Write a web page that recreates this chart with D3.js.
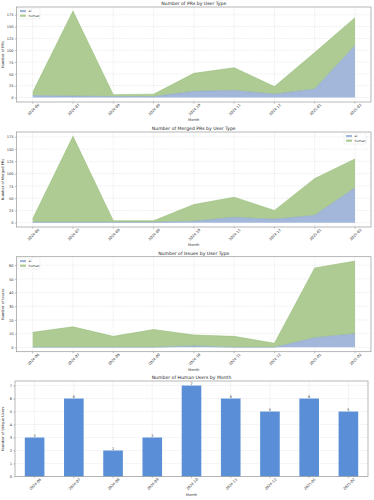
<!DOCTYPE html>
<html><head><meta charset="utf-8">
<script src="https://cdn.jsdelivr.net/npm/d3@7"></script>
<style>body{margin:0;background:#fff}svg{display:block;font-family:"DejaVu Sans",sans-serif}</style>
</head><body><svg id="c" width="374" height="500"></svg>
<script>
const months = ["2024-06","2024-07","2024-08","2024-09","2024-10","2024-11","2024-12","2025-01","2025-02"];
const prsAi = [4,3,2,2,13,15,7,18,110];
const prsHuman = [7,180,4,5,38,48,16,77,59];
const mergedAi = [1,1,1,1,3,11,7,15,71];
const mergedHuman = [7,175,3,3,34,41,18,75,59];
const issuesAi = [0,0,0,0,1,0,0,7,10];
const issuesHuman = [11,15,8,13,8,8,3,51,53];
const humanUsers = [3,6,2,3,7,6,5,6,5];
const prTicks = [0,25,50,75,100,125,150,175];
const issueTicks = [0,10,20,30,40,50,60];
const userTicks = [0,1,2,3,4,5,6,7];

const svg = d3.select("#c");
const C_AI = "#a3b7da", C_HU = "#aecb94", L_AI = "#7f9cc9", L_HU = "#8fb86f", C_BAR = "#5a8fd8";
const FS = 3.6;

function frame(g, x0, x1, y0, y1, title, ylab) {
  g.append("text").attr("x", (x0 + x1) / 2).attr("y", y0 - 2).attr("text-anchor", "middle")
    .attr("font-size", 4.6).attr("fill", "#222").text(title);
  g.append("text").attr("transform", `translate(4,${(y0 + y1) / 2}) rotate(-90)`)
    .attr("text-anchor", "middle").attr("font-size", FS).attr("fill", "#333").text(ylab);
  g.append("text").attr("x", (x0 + x1) / 2).attr("y", y1 + 19).attr("text-anchor", "middle")
    .attr("font-size", FS).attr("fill", "#333").text("Month");
}

function yAxis(g, y, ticks, x0, x1) {
  const ax = g.append("g").attr("transform", `translate(${x0},0)`)
    .call(d3.axisLeft(y).tickValues(ticks).tickSize(1.5).tickPadding(1.5));
  ax.select(".domain").remove();
  ax.selectAll("text").attr("font-size", FS).attr("fill", "#333").attr("font-family", "DejaVu Sans");
  ax.selectAll("line").attr("stroke", "#555").attr("stroke-width", 0.4);
  g.append("g").selectAll("line").data(ticks).join("line")
    .attr("x1", x0).attr("x2", x1).attr("y1", d => y(d)).attr("y2", d => y(d))
    .attr("stroke", "#ddd").attr("stroke-width", 0.5).attr("stroke-dasharray", "1.5,1");
}

function xAxis(g, xpos, y1, y0) {
  g.append("g").selectAll("line").data(months).join("line")
    .attr("x1", d => xpos(d)).attr("x2", d => xpos(d)).attr("y1", y0).attr("y2", y1)
    .attr("stroke", "#ddd").attr("stroke-width", 0.5).attr("stroke-dasharray", "1.5,1");
  const t = g.append("g");
  t.selectAll("line").data(months).join("line")
    .attr("x1", d => xpos(d)).attr("x2", d => xpos(d)).attr("y1", y1).attr("y2", y1 + 1.5)
    .attr("stroke", "#555").attr("stroke-width", 0.4);
  t.selectAll("text").data(months).join("text")
    .attr("transform", d => `translate(${xpos(d) + 1.5},${y1 + 8.5}) rotate(-45)`)
    .attr("text-anchor", "middle").attr("font-size", FS).attr("fill", "#333").text(d => d);
}

function border(g, x0, x1, y0, y1) {
  g.append("rect").attr("x", x0).attr("y", y0).attr("width", x1 - x0).attr("height", y1 - y0)
    .attr("fill", "none").attr("stroke", "#999").attr("stroke-width", 0.7);
}

function legend(g, lx, ly) {
  g.append("rect").attr("x", lx - 2).attr("y", ly - 3).attr("width", 22).attr("height", 11)
    .attr("fill", "#fff").attr("fill-opacity", 0.8).attr("stroke", "#ddd").attr("stroke-width", 0.4).attr("rx", 0.8);
  [["ai", C_AI], ["human", C_HU]].forEach((d, i) => {
    g.append("rect").attr("x", lx).attr("y", ly - 1 + i * 4.6).attr("width", 6).attr("height", 2.2).attr("fill", d[1]);
    g.append("text").attr("x", lx + 8.5).attr("y", ly + 0.9 + i * 4.6).attr("font-size", 3.2).attr("fill", "#333").text(d[0]);
  });
}

function areaChart(top, ai, human, ymax, ticks, title, ylab, legPos) {
  const x0 = 16.5, x1 = 371, y0 = top, y1 = top + 95;
  const x = d3.scalePoint().domain(months).range([32.7, 355]);
  const rng = ymax;
  const y = d3.scaleLinear().domain(rng).range([y1, y0]);
  const g = svg.append("g");
  frame(g, x0, x1, y0, y1, title, ylab);
  yAxis(g, y, ticks, x0, x1);
  xAxis(g, x, y1, y0);
  const data = months.map((m, i) => ({ m, ai: ai[i], human: human[i] }));
  const series = d3.stack().keys(["ai", "human"])(data);
  const cols = [C_AI, C_HU], lcols = [L_AI, L_HU];
  const area = d3.area().x(d => x(d.data.m)).y0(d => y(d[0])).y1(d => y(d[1]));
  const line = d3.line().x(d => x(d.data.m)).y(d => y(d[1]));
  series.forEach((s, i) => {
    g.append("path").attr("d", area(s)).attr("fill", cols[i]);
  });
  series.forEach((s, i) => {
    g.append("path").attr("d", line(s)).attr("fill", "none").attr("stroke", lcols[i]).attr("stroke-width", 0.5);
  });
  border(g, x0, x1, y0, y1);
  legend(g, legPos[0], legPos[1]);
}

areaChart(7, prsAi, prsHuman, [-9.6, 191.5], prTicks, "Number of PRs by User Type", "Number of PRs", [20, 11]);
areaChart(132, mergedAi, mergedHuman, [-8.8, 184.8], prTicks, "Number of Merged PRs by User Type", "Number of Merged PRs", [346, 136]);
areaChart(256.7, issuesAi, issuesHuman, [-3.2, 66.2], issueTicks, "Number of Issues by User Type", "Number of Issues", [20, 261]);

// Bar chart
(function () {
  const x0 = 15, x1 = 368, y0 = 381, y1 = 476.5;
  const x = d3.scaleBand().domain(months).range([x0, x1]).paddingInner(0.5).paddingOuter(0.25);
  const y = d3.scaleLinear().domain([0, 7.35]).range([y1, y0]);
  const g = svg.append("g");
  frame(g, x0, x1, y0, y1, "Number of Human Users by Month", "Number of Unique Users");
  yAxis(g, y, userTicks, x0, x1);
  const xc = d => x(d) + x.bandwidth() / 2;
  xAxis(g, xc, y1, y0);
  g.append("g").selectAll("rect").data(months).join("rect")
    .attr("x", d => x(d)).attr("width", x.bandwidth())
    .attr("y", (d, i) => y(humanUsers[i])).attr("height", (d, i) => y1 - y(humanUsers[i]))
    .attr("fill", C_BAR);
  g.append("g").selectAll("text").data(months).join("text")
    .attr("x", d => xc(d)).attr("y", (d, i) => y(humanUsers[i]) - 1)
    .attr("text-anchor", "middle").attr("font-size", 3.4).attr("fill", "#333")
    .text((d, i) => humanUsers[i]);
  border(g, x0, x1, y0, y1);
})();
</script></body></html>
